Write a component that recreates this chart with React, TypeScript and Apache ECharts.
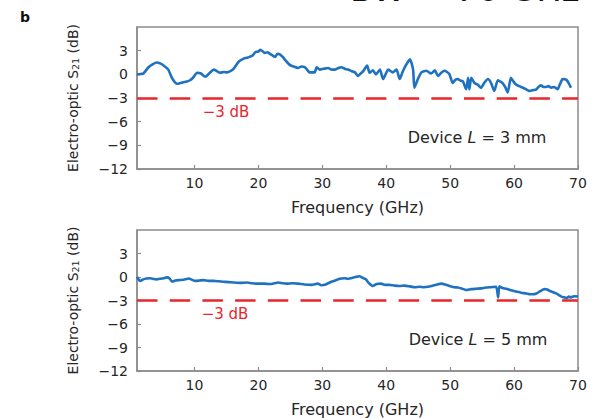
import React, { useEffect, useRef } from 'react';
import * as echarts from 'echarts';

// Frequency tick labels (GHz)
const freqTicks = [10, 20, 30, 40, 50, 60, 70];
const dbTicks = [-12, -9, -6, -3, 0, 3];

// Device L = 3 mm
const freq3mm = [1, 1.6, 2.0, 2.8, 3.5, 4.1, 4.7, 5.2, 5.9, 6.5, 7.25, 7.8, 8.3, 8.8, 9.3, 9.8, 10.4, 11.0, 11.7, 12.4, 13.0, 13.5, 14.0, 14.6, 15.1, 15.6, 16.1, 16.9, 17.7, 18.2, 18.7, 19.1, 19.5, 20.0, 20.3, 20.7, 21.0, 21.4, 21.8, 22.2, 22.6, 23.0, 23.4, 23.8, 24.2, 24.9, 25.5, 26.2, 26.7, 27.25, 27.6, 28.0, 28.8, 29.1, 29.6, 30.2, 30.9, 31.5, 32.0, 32.5, 33.0, 33.5, 34.0, 34.6, 35.1, 35.6, 36.0, 36.4, 37.0, 37.4, 37.9, 38.4, 39.0, 39.5, 40.0, 40.3, 40.7, 41.0, 41.6, 42.1, 42.6, 43.1, 43.7, 44.2, 44.4, 44.95, 45.5, 46.3, 47.0, 47.6, 48.1, 48.6, 49.1, 49.5, 49.9, 50.4, 50.8, 51.2, 51.6, 52.0, 52.5, 52.8, 53.0, 53.3, 53.8, 54.3, 54.8, 55.4, 55.9, 56.4, 56.9, 57.45, 57.8, 58.2, 58.6, 59.0, 59.5, 59.9, 60.3, 60.8, 61.4, 61.9, 62.4, 63.0, 63.5, 63.8, 64.2, 64.6, 65.0, 65.4, 65.8, 66.3, 66.8, 67.2, 67.6, 68.2, 68.6, 68.9];
const s21_3mm = [0, 0.05, 0.1, 0.9, 1.3, 1.5, 1.35, 1.1, 0.6, -0.5, -1.2, -1.1, -1.0, -0.9, -0.75, -0.4, 0.2, 0.1, -0.3, 0.2, 0.6, 0.4, 0.2, 0.3, 0.25, 0.4, 0.7, 1.6, 2.0, 2.1, 2.25, 2.4, 2.8, 2.9, 3.1, 2.9, 2.7, 2.8, 2.6, 2.4, 2.2, 2.6, 2.5, 2.2, 1.8, 1.2, 1.0, 0.8, 1.0, 0.9, 0.6, 0.25, 0.25, 0.9, 0.6, 0.7, 0.8, 0.6, 0.6, 0.8, 0.9, 0.7, 0.6, 0.4, 0.25, -0.2, 0.1, 0.4, 1.1, 0.2, 0.5, 0.0, 0.6, -0.6, 0.2, 0.6, 0.4, 0.25, 0.6, -0.6, 0.4, 1.2, 1.9, 0.6, -1.7, -0.6, 0.25, 0.45, 0.1, 0.5, -0.2, 0.2, 0.45, 0.3, 0.0, -1.1, -0.7, -0.6, -0.8, -0.9, -1.9, -0.45, -1.9, -0.45, -1.1, -1.3, -1.7, -1.0, -0.6, -1.1, -2.1, -0.75, -0.9, -1.1, -1.6, -2.3, -0.45, -0.9, -1.3, -1.5, -1.7, -1.9, -2.1, -2.0, -1.9, -1.6, -1.4, -1.6, -1.6, -1.5, -1.7, -1.6, -1.9, -1.2, -0.6, -0.7, -1.2, -1.7];

// Device L = 5 mm
const freq5mm = [1, 1.5, 2.0, 2.5, 3.1, 3.6, 4.1, 4.9, 5.7, 6.1, 6.5, 7.0, 7.5, 8.3, 9.1, 9.6, 10.1, 10.8, 11.4, 12.2, 13.0, 13.8, 14.5, 15.3, 16.1, 17.2, 18.2, 19.0, 19.75, 20.8, 21.8, 22.5, 23.1, 23.8, 24.4, 25.3, 26.2, 27.2, 28.3, 29.3, 29.8, 30.4, 31.4, 32.0, 32.5, 33.0, 33.5, 34.0, 34.5, 35.2, 35.8, 36.3, 36.8, 37.3, 37.9, 38.5, 39.2, 39.8, 40.5, 41.3, 42.1, 42.9, 43.7, 44.5, 45.2, 45.9, 46.5, 47.1, 47.8, 48.6, 49.2, 49.9, 50.6, 51.2, 51.9, 52.5, 53.3, 54.1, 54.9, 55.6, 56.4, 57.2, 57.5, 57.7, 58.2, 58.8, 59.5, 60.3, 61.1, 61.9, 62.5, 62.9, 63.5, 64.1, 64.75, 65.2, 65.5, 66.0, 66.6, 67.0, 67.4, 67.8, 68.2, 68.6, 68.9, 69.4, 70];
const s21_5mm = [0, -0.5, -0.3, -0.2, -0.15, -0.25, -0.3, -0.2, -0.05, -0.2, -0.6, -0.45, -0.4, -0.35, -0.2, -0.35, -0.5, -0.45, -0.4, -0.5, -0.5, -0.55, -0.6, -0.65, -0.7, -0.75, -0.7, -0.8, -0.85, -0.85, -0.9, -0.8, -0.7, -0.8, -0.85, -0.8, -0.85, -0.95, -1.0, -0.85, -1.05, -1.0, -0.6, -0.45, -0.3, -0.2, -0.15, -0.25, -0.15, 0.0, 0.1, -0.1, -0.3, -0.8, -1.15, -0.9, -0.85, -1.0, -1.0, -1.1, -1.15, -1.1, -1.2, -1.3, -1.25, -1.3, -1.25, -1.15, -1.0, -0.85, -0.95, -1.15, -1.3, -1.35, -1.5, -1.65, -1.55, -1.5, -1.45, -1.35, -1.3, -1.25, -2.6, -1.2, -1.4, -1.5, -1.7, -1.85, -2.0, -2.1, -2.2, -2.2, -2.1, -1.8, -1.55, -1.6, -1.75, -1.9, -2.1, -2.3, -2.5, -2.6, -2.7, -2.5, -2.6, -2.45, -2.5];

const threshold = -3;

const FONT = 'DejaVu Sans';
const GRAY = '#8c8c8c';
const TEXT = '#262626';
const BLUE = '#1f72c0';
const RED = '#e8262b';

const fmtDb = (v: number) => (v < 0 ? '\u2212' + Math.abs(v) : String(v));

function App() {
  const ref = useRef<HTMLDivElement>(null);
  useEffect(() => {
    if (!ref.current) return;
    const chart = echarts.init(ref.current, null, { renderer: 'svg' });
    const pair = (xs: number[], ys: number[]) => xs.map((x, i) => [x, ys[i]]);
    const xAxisFor = (gi: number) => ({
      type: 'value',
      gridIndex: gi,
      min: 1,
      max: 70,
      name: 'Frequency (GHz)',
      nameLocation: 'middle',
      nameGap: 30,
      nameTextStyle: { fontFamily: FONT, fontSize: 16, color: TEXT },
      axisLine: { show: true, onZero: false, lineStyle: { color: GRAY, width: 1.5 } },
      axisTick: { show: true, inside: true, length: 4, customValues: freqTicks, lineStyle: { color: GRAY, width: 1.2 } },
      axisLabel: { customValues: freqTicks, margin: 7, fontFamily: FONT, fontSize: 14, color: TEXT },
      splitLine: { show: false },
    });
    const yAxisFor = (gi: number) => ({
      type: 'value',
      gridIndex: gi,
      min: -12,
      max: 6,
      name: 'Electro-optic S{sub|21} (dB)',
      nameLocation: 'middle',
      nameGap: 57,
      nameTextStyle: {
        fontFamily: FONT,
        fontSize: 14,
        color: TEXT,
        rich: {
          sub: { fontFamily: FONT, fontSize: 9.5, color: TEXT, verticalAlign: 'bottom', padding: [5, 0, 0, 0] },
        },
      },
      axisLine: { show: true, onZero: false, lineStyle: { color: GRAY, width: 1.5 } },
      axisTick: { show: true, inside: true, length: 4, customValues: dbTicks, lineStyle: { color: GRAY, width: 1.2 } },
      axisLabel: { customValues: dbTicks, margin: 9, fontFamily: FONT, fontSize: 14, color: TEXT, formatter: fmtDb },
      splitLine: { show: false },
    });
    const seriesFor = (gi: number, xs: number[], ys: number[]) => ({
      type: 'line',
      xAxisIndex: gi,
      yAxisIndex: gi,
      data: pair(xs, ys),
      showSymbol: false,
      smooth: 0.2,
      lineStyle: { color: BLUE, width: 2.6 },
      markLine: {
        silent: true,
        symbol: 'none',
        label: { show: false },
        lineStyle: { color: RED, width: 2.6, type: [20.5, 12.2] },
        data: [{ yAxis: threshold }],
      },
    });
    const textEl = (x: number, y: number, text: string, opts: any = {}) => ({
      type: 'text',
      x,
      y,
      style: {
        text,
        fontFamily: FONT,
        fontSize: 16,
        fill: TEXT,
        align: 'center',
        verticalAlign: 'middle',
        rich: { i: { fontFamily: FONT, fontSize: opts.fontSize || 16, fontStyle: 'italic', fill: TEXT } },
        ...opts,
      },
    });
    chart.setOption({
      animation: false,
      backgroundColor: '#ffffff',
      grid: [
        { left: 137, right: 22, top: 27, height: 142, show: true, borderColor: GRAY, borderWidth: 1.5 },
        { left: 137, right: 22, top: 230, height: 142, show: true, borderColor: GRAY, borderWidth: 1.5 },
      ],
      xAxis: [xAxisFor(0), xAxisFor(1)],
      yAxis: [yAxisFor(0), yAxisFor(1)],
      series: [seriesFor(0, freq3mm, s21_3mm), seriesFor(1, freq5mm, s21_5mm)],
      graphic: [
        textEl(20, 17, 'b', { fontWeight: 'bold', fontSize: 14, fill: '#111', align: 'left' }),
        textEl(350, 6, 'BW > 70 GHz', { fontSize: 34, fill: '#111', align: 'left', verticalAlign: 'bottom' }),
        textEl(477, 137, 'Device {i|L} = 3 mm'),
        textEl(478, 339, 'Device {i|L} = 5 mm'),
        textEl(226, 112, '\u22123 dB', { fill: RED, fontSize: 15 }),
        textEl(225, 314, '\u22123 dB', { fill: RED, fontSize: 15 }),
      ],
    });
    return () => chart.dispose();
  }, []);
  return <div ref={ref} style={{ position: 'absolute', left: 0, top: 0, width: 600, height: 418 }} />;
}

export default App;
